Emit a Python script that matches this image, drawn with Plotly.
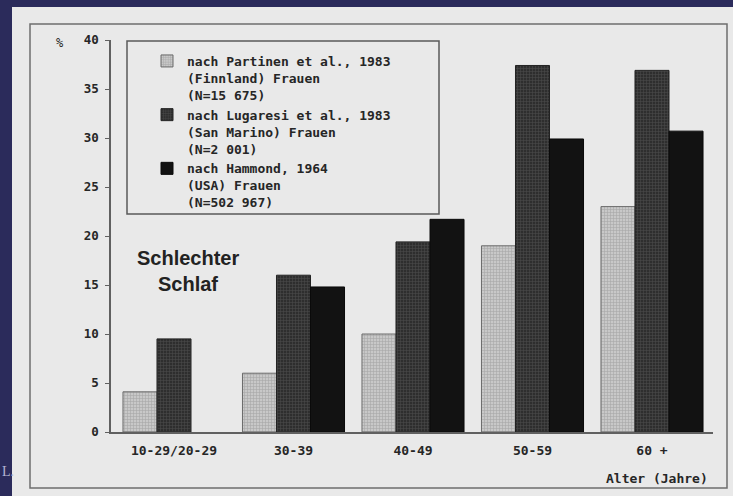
import plotly.graph_objects as go

# ---- data ----
age_groups = ["10-29/20-29", "30-39", "40-49", "50-59", "60 +"]
partinen = [4.1, 6.0, 10.0, 19.0, 23.0]
lugaresi = [9.5, 16.0, 19.4, 37.4, 36.9]
hammond = [None, 14.8, 21.7, 29.9, 30.7]
y_ticks = [0, 5, 10, 15, 20, 25, 30, 35, 40]
series_names = [
    "nach Partinen et al., 1983<br>(Finnland) Frauen<br>(N=15 675)",
    "nach Lugaresi et al., 1983<br>(San Marino) Frauen<br>(N=2 001)",
    "nach Hammond, 1964<br>(USA) Frauen<br>(N=502 967)",
]

W, H = 733, 496
L, R, T, B = 111, 713, 40, 432  # plot area in px


def px(x):
    return (x - L) / (R - L)


def py(y):
    return (B - y) / (B - T)


MONO = "DejaVu Sans Mono"
TXT = "#262626"
NAVY = "#2b2b5b"

fig = go.Figure()
fig.add_trace(go.Bar(
    x=age_groups, y=partinen, name=series_names[0],
    marker=dict(color="#b8b8b8", line=dict(color="#6a6a6a", width=1),
                pattern=dict(shape="+", size=3, solidity=0.35,
                             fgcolor="#858585", bgcolor="#c8c8c8")),
))
fig.add_trace(go.Bar(
    x=age_groups, y=lugaresi, name=series_names[1],
    marker=dict(color="#3c3c3c", line=dict(color="#222222", width=1),
                pattern=dict(shape="+", size=3, solidity=0.3,
                             fgcolor="#6e6e6e", bgcolor="#2e2e2e")),
))
fig.add_trace(go.Bar(
    x=age_groups, y=hammond, name=series_names[2],
    marker=dict(color="#121212", line=dict(color="#0a0a0a", width=1)),
))

shapes = [
    # scanned paper sheet
    dict(type="rect", xref="paper", yref="paper", x0=px(12), x1=px(740),
         y0=py(7), y1=py(500), fillcolor="#e9e9e9", line=dict(width=0),
         layer="below"),
    # outer frame
    dict(type="rect", xref="paper", yref="paper", x0=px(30), x1=px(727),
         y0=py(24), y1=py(488), line=dict(color="#6e6e6e", width=1.5),
         layer="below"),
    # legend box
    dict(type="rect", xref="paper", yref="paper", x0=px(127), x1=px(439),
         y0=py(41), y1=py(214), line=dict(color="#5a5a5a", width=1.5),
         fillcolor="#e9e9e9", layer="below"),
]


def note(text, x, y, font, xanchor="center"):
    return dict(text=text, x=px(x), y=py(y), xref="paper", yref="paper",
                xanchor=xanchor, yanchor="middle", showarrow=False, font=font)


annotations = [
    note("%", 60, 43, dict(family=MONO, size=12, color=TXT)),
    note("<b>Schlechter</b>", 188, 258,
         dict(family="Liberation Sans, Arial", size=20, color="#222")),
    note("<b>Schlaf</b>", 188, 284,
         dict(family="Liberation Sans, Arial", size=20, color="#222")),
    note("<b>Alter (Jahre)</b>", 657, 478, dict(family=MONO, size=13, color=TXT)),
    note("L.", 0, 471, dict(family="Liberation Serif", size=14, color="#b4b6d2"),
         xanchor="left"),
]

cat_step = 119.5
fig.update_layout(
    width=W, height=H,
    margin=dict(l=L, r=W - R, t=T, b=H - B, pad=0),
    paper_bgcolor=NAVY,
    plot_bgcolor="rgba(0,0,0,0)",
    barmode="group", bargap=0.146, bargroupgap=0,
    showlegend=True,
    legend=dict(x=px(147), y=py(46), xanchor="left", yanchor="top",
                bgcolor="rgba(0,0,0,0)", borderwidth=0, valign="top",
                font=dict(family=MONO, size=13, color=TXT, weight="bold"),
                traceorder="normal"),
    shapes=shapes,
    annotations=annotations,
    xaxis=dict(
        range=[-(174 - L) / cat_step, (R - 174) / cat_step],
        showline=True, linecolor="#606060", linewidth=1.5,
        ticks="", showgrid=False, zeroline=False,
        tickfont=dict(family=MONO, size=13, color=TXT, weight="bold"),
        ticklabelstandoff=6,
    ),
    yaxis=dict(
        range=[0, 40], tickvals=y_ticks, showline=True, linecolor="#606060",
        linewidth=1.5, ticks="outside", ticklen=4, tickcolor="#606060",
        tickwidth=1.2, showgrid=False, zeroline=False,
        tickfont=dict(family=MONO, size=12.5, color=TXT, weight="bold"),
        ticklabelstandoff=4,
    ),
)

fig.write_html(
    "out.html",
    config={"displayModeBar": False},
    post_script="document.body.style.margin='0';"
                "document.body.style.background='" + NAVY + "';"
                "document.body.style.overflow='hidden';",
)
